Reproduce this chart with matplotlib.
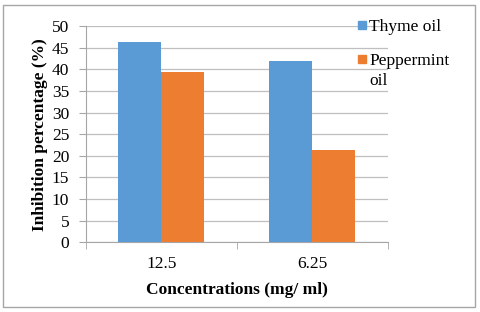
import numpy as np
import matplotlib.pyplot as plt
from matplotlib.patches import Rectangle

# Data
concentrations = ['12.5', '6.25']
thyme_oil = [46.4, 41.8]
peppermint_oil = [39.4, 21.3]
series_names = ['Thyme oil', 'Peppermint\noil']
colors = ['#5B9BD5', '#ED7D31']

plt.rcParams['font.family'] = ['Liberation Serif', 'DejaVu Serif']

fig = plt.figure(figsize=(4.8, 3.12), dpi=100)
ax = fig.add_axes([0.179, 0.2234, 0.629, 0.6933])

x = np.arange(len(concentrations))
w = 0.285
ax.bar(x - w / 2, thyme_oil, w, color=colors[0], zorder=3)
ax.bar(x + w / 2, peppermint_oil, w, color=colors[1], zorder=3)

ax.set_xlim(-0.5, 1.5)
ax.set_ylim(0, 50)
ax.set_yticks(np.arange(0, 51, 5))
ax.set_xticks(x)
ax.set_xticklabels(concentrations)
ax.set_xticks([-0.5, 0.5, 1.5], minor=True)
ax.tick_params(axis='x', which='major', length=0, labelsize=12.5, pad=10)
ax.tick_params(axis='x', which='minor', length=5, color='#A6A6A6', direction='out')
ax.tick_params(axis='y', length=5, color='#A6A6A6', labelsize=12.5, pad=7)

ax.grid(axis='y', color='#BFBFBF', linewidth=0.9, zorder=0)
for s in ['top', 'right']:
    ax.spines[s].set_visible(False)
for s in ['left', 'bottom']:
    ax.spines[s].set_color('#A6A6A6')

ax.set_ylabel('Inhibition percentage (%)', fontsize=12.5, fontweight='bold', labelpad=3)
ax.set_xlabel('Concentrations (mg/ ml)', fontsize=12.5, fontweight='bold', labelpad=7)

# legend drawn by hand: square aligned with the first line of each label
W, H = 480, 312
legend_y = [25, 59]
for name, c, yy in zip(series_names, colors, legend_y):
    fig.patches.append(Rectangle((358 / W, 1 - (yy + 4) / H), 8 / W, 8 / H,
                                 transform=fig.transFigure, color=c))
    fig.text(369 / W, 1 - (yy - 6) / H, name, fontsize=12.5, va='top', ha='left',
             linespacing=1.35)

fig.patches.append(Rectangle((3 / W, 5 / H), 472 / W, 302 / H,
                             transform=fig.transFigure, fill=False,
                             edgecolor='#A6A6A6', linewidth=1))

fig.savefig('out.png', dpi=100)
